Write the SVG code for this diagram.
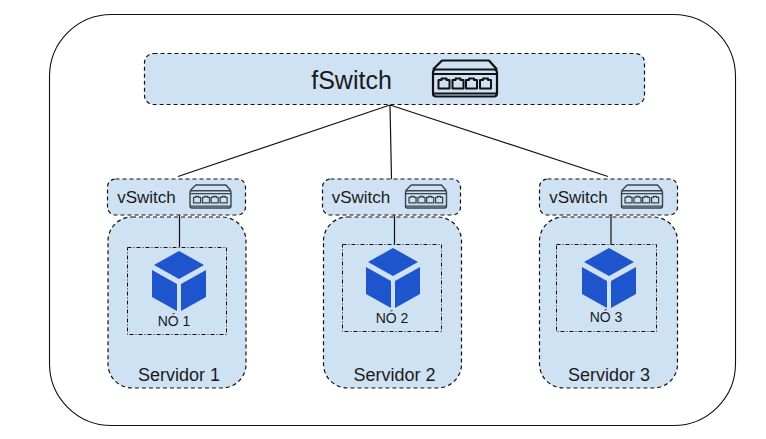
<svg xmlns="http://www.w3.org/2000/svg" width="766" height="439" viewBox="0 0 766 439">
<style>
text{font-family:"Liberation Sans",Arial,sans-serif;fill:#1a1a1a}
.box{fill:#cfe2f3;stroke:#111;stroke-width:1.200;stroke-dasharray:4 3}
.inner{fill:none;stroke:#111;stroke-width:1;stroke-dasharray:4 2 1 2}
.conn{stroke:#111;stroke-width:1.200;fill:none}
.sw{fill:none;stroke-linejoin:round}
.t18{font-size:18px}.t17{font-size:17px}.t14{font-size:14px}
</style>
<defs>
<path id="port" d="M0 1.500H3V0H8V1.500H11V10H0Z" stroke-width="2"/>
<g id="switch" class="sw">
<path d="M-32 -9L-23 -18H24L32 -9" stroke-width="2.200"/>
<rect x="-32" y="-9" width="64" height="27" rx="3" stroke-width="2.200"/>
<path d="M-32 -4.500H32M-32 15H32" stroke-width="2"/>
<use href="#port" x="-26.500"/><use href="#port" x="-12.500"/><use href="#port" x="1"/><use href="#port" x="15"/>
</g>
<g id="cube" fill="#1f55cc">
<path d="M0 -27L25 -13L0 1L-25 -13Z"/>
<path d="M-27 -8L-2 6V33L-27 19Z"/>
<path d="M27 -8L2 6V33L27 19Z"/>
</g>
</defs>
<rect x="49.500" y="14.500" width="686" height="411" rx="62" fill="#fff" stroke="#111" stroke-width="1.100"/>
<g id="servidor1"><rect class="box" x="108" y="217" width="138" height="171" rx="24"/><text class="t18" x="179" y="381" text-anchor="middle">Servidor 1</text></g>
<g id="servidor2"><rect class="box" x="323.500" y="217" width="138" height="171" rx="24"/><text class="t18" x="394.500" y="381" text-anchor="middle">Servidor 2</text></g>
<g id="servidor3"><rect class="box" x="539.500" y="217" width="138" height="171" rx="24"/><text class="t18" x="609" y="381" text-anchor="middle">Servidor 3</text></g>
<g id="connectors">
<path class="conn" d="M390 105L178 176.500M390 105L391.500 179M390 105L608 176.500"/>
<path class="conn" d="M179.500 215V247M394.500 215V244.500M611 215V244.500"/>
</g>
<g id="fswitch"><rect class="box" x="144.500" y="53.500" width="500" height="51" rx="9"/><text x="351.500" y="89" font-size="25" text-anchor="middle">fSwitch</text><use href="#switch" x="465" y="78.500" stroke="#111"/></g>
<g id="vswitch1"><rect class="box" x="107.500" y="179" width="138" height="36" rx="8"/><text class="t17" x="146.500" y="203" text-anchor="middle">vSwitch</text><use href="#switch" transform="translate(210.500 196.500) scale(.64)" stroke="#37474f"/></g>
<g id="vswitch2"><rect class="box" x="322.500" y="179" width="138" height="36" rx="8"/><text class="t17" x="361" y="203" text-anchor="middle">vSwitch</text><use href="#switch" transform="translate(426 196.500) scale(.64)" stroke="#37474f"/></g>
<g id="vswitch3"><rect class="box" x="539.500" y="179" width="138" height="36" rx="8"/><text class="t17" x="578.500" y="203" text-anchor="middle">vSwitch</text><use href="#switch" transform="translate(642 196.500) scale(.64)" stroke="#37474f"/></g>
<g id="no1"><rect class="inner" x="127.500" y="247.500" width="99" height="87"/><use href="#cube" x="179" y="278"/><text class="t14" x="174" y="326" text-anchor="middle">NÓ 1</text></g>
<g id="no2"><rect class="inner" x="342.500" y="244.500" width="99" height="87"/><use href="#cube" x="393" y="275"/><text class="t14" x="392" y="323" text-anchor="middle">NÓ 2</text></g>
<g id="no3"><rect class="inner" x="556.500" y="244.500" width="100" height="87"/><use href="#cube" x="609" y="275"/><text class="t14" x="606" y="322" text-anchor="middle">NÓ 3</text></g>
</svg>
